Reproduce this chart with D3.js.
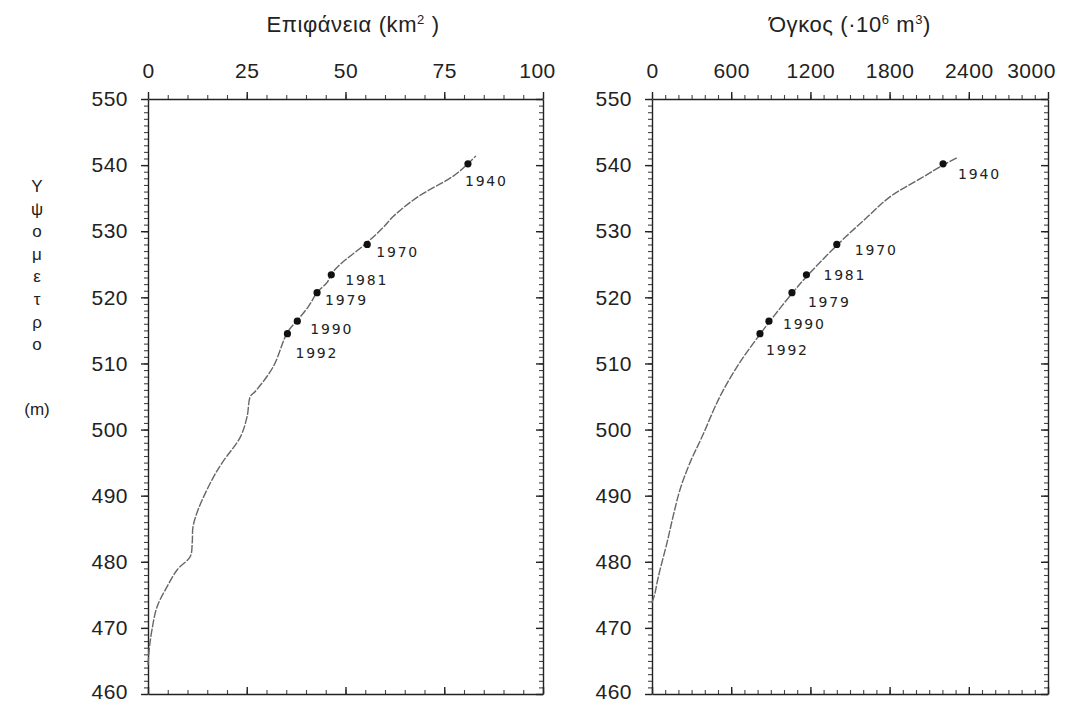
<!DOCTYPE html>
<html>
<head>
<meta charset="utf-8">
<script src="https://cdn.jsdelivr.net/npm/d3@7"></script>
<style>
  body { margin: 0; background: #fff; }
  svg { display: block; }
  .axis path, .axis line { stroke: #222; stroke-width: 1.4; }
  .axis text { font-family: "Liberation Sans", Arial, sans-serif; font-size: 21px; fill: #222; letter-spacing: 0.5px; }
  .minor path { stroke: none; }
  .minor line { stroke: #444; stroke-width: 1.1; }
</style>
</head>
<body>
<svg id="chart" width="1075" height="702"></svg>
<script>
// elevation (m) vs reservoir area (km2)
const areaElev = [464.4, 466.7, 469.7, 473.2, 476.2, 478.8, 480.8, 482.9, 485.3, 487.9, 492.4, 495.0,
    498.9, 502.0, 505.0, 505.8, 509.5, 514.7, 516.5, 518.6, 520.8, 522.3, 523.5, 525.0, 528.2,
    530.6, 532.3, 535.2, 538.3, 540.2, 541.4]
const areaKm2 = [0, 0.3, 1.0, 2.3, 4.8, 7.4, 10.7, 11.2, 11.4, 12.7, 16.2, 18.8,
    23.4, 25.1, 25.9, 27.2, 31.7, 35.3, 37.8, 40.6, 42.9, 45.4, 46.4, 48.7, 55.3,
    59.6, 62.2, 68.3, 77.2, 81, 83]

// elevation (m) vs volume (10^6 m3), right panel
const volElev = [473.8, 475.3, 476.8, 478.8, 482.9, 486.8, 490.9, 495.0, 498.9, 505.0, 510.2,
    514.4, 516.2, 520.6, 523.2, 527.9, 532.1, 535.2, 538.2, 540.0, 541.2]
const volume = [0, 23, 38, 61, 114, 159, 212, 288, 379, 515, 667,
    818, 886, 1061, 1174, 1402, 1629, 1803, 2053, 2205, 2318]

// survey years marked on both curves
const years = ['1940', '1970', '1981', '1979', '1990', '1992']
const yearElev = [540.2, 528.0, 523.4, 520.7, 516.4, 514.5]
const yearArea = [81, 55.5, 46.4, 42.8, 37.8, 35.3]
const yearVol = [2205, 1400, 1170, 1060, 886, 818]

const areaTicks = [0, 25, 50, 75, 100]
const volTicks = [0, 600, 1200, 1800, 2400, 3000]
const elevTicks = [460, 470, 480, 490, 500, 510, 520, 530, 540, 550]
const yTitle = ['Υ', 'ψ', 'ο', 'μ', 'ε', 'τ', 'ρ', 'ο']

// label offsets from the marker, in px
const areaLabelOff = [[-3, 18], [9, 9], [14, 6], [8, 8], [13, 9], [8, 20]]
const volLabelOff = [[15, 11], [18, 7], [17, 1], [16, 10], [14, 4], [6, 17]]

const svg = d3.select('#chart')
const plotTop = 99
const plotBottom = 694

const y = d3.scaleLinear().domain([460, 550]).range([plotBottom, plotTop])

function drawPanel (opts) {
    const x = d3.scaleLinear().domain(opts.domain).range([opts.x0, opts.x1])
    const g = svg.append('g')

    // minor ticks
    g.append('g').attr('class', 'axis minor')
        .attr('transform', `translate(0,${plotTop})`)
        .call(d3.axisTop(x).ticks(opts.minor).tickSize(4).tickFormat(''))
    g.append('g').attr('class', 'axis minor')
        .attr('transform', `translate(0,${plotBottom})`)
        .call(d3.axisBottom(x).ticks(opts.minor).tickSize(-4).tickFormat(''))
    g.append('g').attr('class', 'axis minor')
        .attr('transform', `translate(${opts.x0},0)`)
        .call(d3.axisLeft(y).ticks(90).tickSize(4).tickFormat(''))
    g.append('g').attr('class', 'axis minor')
        .attr('transform', `translate(${opts.x1},0)`)
        .call(d3.axisRight(y).ticks(90).tickSize(-4).tickFormat(''))

    // major axes / frame
    const topAxis = g.append('g').attr('class', 'axis')
        .attr('transform', `translate(0,${plotTop})`)
        .call(d3.axisTop(x).tickValues(opts.ticks).tickSize(7).tickSizeOuter(0)
            .tickPadding(14).tickFormat(d3.format('d')))
    // last label sits a bit inside the frame in the original
    topAxis.selectAll('.tick text')
        .filter(d => d === opts.domain[1])
        .attr('dx', opts.lastShift)
    g.append('g').attr('class', 'axis')
        .attr('transform', `translate(0,${plotBottom})`)
        .call(d3.axisBottom(x).tickValues(opts.ticks).tickSize(-7).tickSizeOuter(0).tickFormat(''))
    const leftAxis = g.append('g').attr('class', 'axis')
        .attr('transform', `translate(${opts.x0},0)`)
        .call(d3.axisLeft(y).tickValues(elevTicks).tickSize(7).tickSizeOuter(0).tickPadding(13))
    leftAxis.selectAll('.tick text')
        .filter(d => d === 460)
        .attr('dy', '0.2em')
    g.append('g').attr('class', 'axis')
        .attr('transform', `translate(${opts.x1},0)`)
        .call(d3.axisRight(y).tickValues(elevTicks).tickSize(-7).tickSizeOuter(0).tickFormat(''))

    // title
    const t = g.append('text')
        .attr('x', opts.titleX)
        .attr('y', 32)
        .attr('text-anchor', 'middle')
        .style('font-family', '"Liberation Sans", Arial, sans-serif')
        .style('font-size', '22px')
        .style('letter-spacing', '0.6px')
        .style('fill', '#222')
    opts.title.forEach(part => {
        const s = t.append('tspan').text(part.text)
        if (part.sup) s.attr('dy', part.sup)
        if (part.sup < 0) s.style('font-size', '13px')
    })

    // curve
    const line = d3.line()
        .x(d => x(d[0]))
        .y(d => y(d[1]))
        .curve(d3.curveCatmullRom)
    g.append('path')
        .datum(d3.zip(opts.xs, opts.ys))
        .attr('d', line)
        .attr('fill', 'none')
        .attr('stroke', '#666')
        .attr('stroke-width', 1.4)
        .attr('stroke-dasharray', '8,1.5')

    // year markers
    g.selectAll('.mark')
        .data(years)
        .join('circle')
        .attr('cx', (d, i) => x(opts.yearX[i]))
        .attr('cy', (d, i) => y(yearElev[i]))
        .attr('r', 3.6)
        .attr('fill', '#111')

    g.selectAll('.ylabel')
        .data(years)
        .join('text')
        .attr('x', (d, i) => x(opts.yearX[i]) + opts.off[i][0])
        .attr('y', (d, i) => y(yearElev[i]) + opts.off[i][1])
        .attr('dominant-baseline', 'middle')
        .style('font-family', '"DejaVu Sans", sans-serif')
        .style('font-size', '14px')
        .style('letter-spacing', '1.8px')
        .style('fill', '#222')
        .text(d => d)
}

drawPanel({
    domain: [0, 100], x0: 148, x1: 543, ticks: areaTicks, minor: 20,
    xs: areaKm2, ys: areaElev, yearX: yearArea, off: areaLabelOff,
    titleX: 353, lastShift: -6,
    title: [{ text: 'Επιφάνεια (km' }, { text: '2', sup: -8 }, { text: ' )', sup: 8 }]
})

drawPanel({
    domain: [0, 3000], x0: 652, x1: 1048, ticks: volTicks, minor: 30,
    xs: volume, ys: volElev, yearX: yearVol, off: volLabelOff,
    titleX: 850, lastShift: -17,
    title: [{ text: 'Όγκος (·10' }, { text: '6', sup: -8 }, { text: ' m', sup: 8 }, { text: '3', sup: -8 }, { text: ')', sup: 8 }]
})

// vertical y-axis title
const yt = svg.append('g')
    .style('font-family', '"Liberation Sans", Arial, sans-serif')
    .style('font-size', '17px')
    .style('fill', '#222')
yt.selectAll('text')
    .data(yTitle)
    .join('text')
    .attr('x', 37)
    .attr('y', (d, i) => 192 + i * 22.6)
    .attr('text-anchor', 'middle')
    .text(d => d)
yt.append('text')
    .attr('x', 37)
    .attr('y', 415)
    .attr('text-anchor', 'middle')
    .text('(m)')
</script>
</body>
</html>
